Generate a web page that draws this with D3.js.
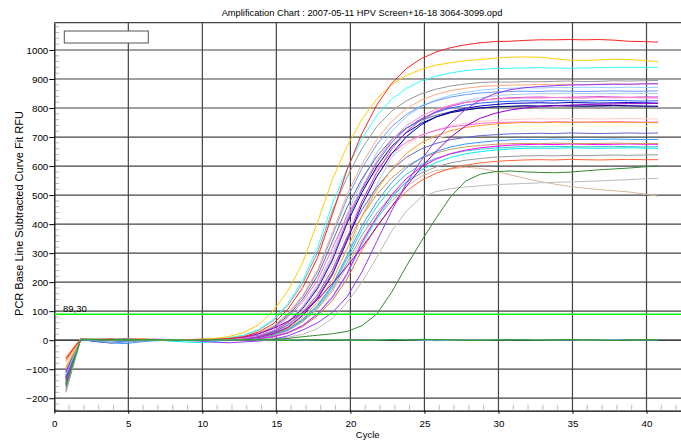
<!DOCTYPE html>
<html>
<head>
<meta charset="utf-8">
<script src="https://cdn.jsdelivr.net/npm/d3@7"></script>
<style>
body { margin: 0; background: #fff; }
text { font-family: "Liberation Sans", Arial, sans-serif; fill: #000; }
</style>
</head>
<body>
<svg width="681" height="441"></svg>
<script>
// RFU per cycle (cycles 1..41), one array per well
var red = [-65,4,2,3,1,0,2,1,0,1,3,6,12,28,56,107,181,284,433,588,712,810,884,936,970,993,1008,1018,1025,1029,1030,1033,1035,1035,1036,1035,1036,1034,1030,1029,1027];
var gold = [-95,3,2,1,3,2,0,1,1,3,6,12,26,52,101,170,267,407,553,669,761,831,880,912,933,948,956,963,967,972,975,976,975,970,965,964,966,968,967,964,960];
var cyan = [-120,5,3,2,-2,1,2,3,1,2,4,8,17,36,70,127,206,319,469,591,694,774,830,868,893,910,921,929,933,936,937,938,939,938,937,938,939,940,940,940,940];
var gray = [-180,2,0,4,3,-1,2,1,1,2,4,7,16,34,67,120,196,303,446,562,660,736,789,825,849,865,876,883,888,890,889,891,890,892,893,891,892,894,893,894,895];
var purpleA = [-130,2,1,3,0,2,1,0,-1,-3,-7,-9,-6,-3,3,15,35,60,95,150,235,340,445,540,620,690,748,795,828,850,863,870,874,877,879,880,881,882,882,883,884];
var salmon = [-75,5,3,1,2,4,1,0,0,1,3,5,11,24,48,92,154,242,370,502,607,691,754,798,827,847,860,868,874,877,879,880,881,880,882,881,882,883,882,884,883];
var lightBlue = [-130,4,-3,-6,-4,1,3,2,0,1,2,3,7,16,33,65,117,191,296,435,548,644,718,770,805,828,844,854,861,866,868,870,869,871,870,872,871,870,872,871,871];
var cornflower = [-110,3,1,2,0,-2,1,2,0,1,3,5,10,23,46,89,150,236,360,489,592,674,735,778,807,825,838,846,852,855,857,858,857,859,858,857,858,859,858,858,859];
var pink = [-100,5,2,4,1,3,0,2,0,1,2,3,7,15,32,63,113,184,284,418,526,618,689,739,772,795,810,820,827,831,833,835,834,836,835,834,836,835,836,835,834];
var magPurple = [-140,2,1,-2,3,1,2,0,0,0,1,3,5,10,23,45,87,147,230,352,478,578,658,718,760,788,806,819,826,832,835,837,838,836,837,838,839,838,837,838,838];
var royalBlue = [-150,3,-5,-8,-3,0,2,1,0,1,2,3,7,15,31,62,111,182,281,413,520,611,681,730,763,785,800,810,817,821,823,825,824,826,825,824,825,826,825,824,825];
var navy = [-125,4,2,1,3,-1,0,2,0,1,2,3,6,15,31,61,109,178,275,404,509,598,667,715,747,769,784,793,800,804,806,808,807,809,808,807,808,809,808,807,806];
var blue = [-135,3,1,2,-1,2,1,0,0,0,1,2,5,10,22,44,85,143,225,344,466,564,642,701,742,769,787,799,807,812,816,817,818,817,819,818,817,818,819,818,817];
var slate = [-160,2,-4,-10,-6,-2,1,0,0,1,2,5,10,22,44,84,141,222,339,459,556,633,691,731,758,775,787,795,800,804,805,806,805,807,806,805,806,807,806,805,806];
var steel = [-115,5,3,4,2,6,3,1,0,0,1,2,3,7,15,32,64,115,187,289,425,536,629,701,752,786,809,825,835,842,846,848,850,849,851,850,849,850,851,850,850];
var lightPink = [-90,6,4,2,5,3,1,2,0,1,2,3,6,14,29,57,103,168,259,381,480,564,629,674,705,725,739,748,754,758,760,762,763,762,764,763,762,763,764,763,762];
var orange = [-70,5,3,1,2,4,2,0,0,0,1,2,5,9,20,41,78,131,206,315,428,518,589,643,680,705,722,733,740,745,748,750,749,751,750,752,751,750,751,750,749];
var hotPink = [-105,4,2,0,3,1,4,2,0,1,2,5,9,20,41,78,132,207,316,429,519,590,644,682,707,723,735,741,747,750,751,752,751,753,752,751,752,753,752,751,752];
var lightYellow = [-85,3,1,2,0,2,1,0,0,0,1,2,4,9,20,40,77,129,203,310,421,509,579,632,669,694,710,721,728,733,736,738,737,739,738,737,738,739,738,737,738];
var slateBlue = [-145,2,-2,1,-3,0,2,1,0,1,1,3,6,13,27,53,96,157,242,356,449,527,587,630,659,678,691,699,705,708,711,712,713,712,714,713,712,713,714,713,714];
var dodger = [-120,3,-4,-9,-12,-6,-2,0,0,0,1,2,4,8,19,37,72,121,190,291,394,477,543,593,628,650,666,676,682,687,690,692,691,693,692,691,692,693,692,691,692];
var olive = [-95,4,3,5,2,1,3,1,0,1,1,3,5,12,26,51,92,149,231,339,427,502,559,600,627,645,658,666,671,675,677,678,677,679,678,677,678,679,678,677,678];
var magenta = [-130,2,0,3,1,-2,1,0,0,0,1,1,3,5,12,26,51,91,149,230,338,425,500,557,597,624,643,655,663,668,672,674,675,674,676,675,674,675,676,675,675];
var turquoise = [-155,3,1,2,4,2,0,1,0,0,1,2,4,8,18,36,69,117,183,280,380,460,524,572,605,627,642,652,658,662,665,667,666,668,667,666,667,668,667,666,667];
var cyan2 = [-100,5,2,0,3,1,2,-3,-6,-8,-5,1,3,5,12,25,50,89,146,225,331,417,490,546,586,612,630,642,650,655,659,661,662,661,663,662,661,662,663,662,661];
var gray2 = [-170,2,4,1,-2,3,1,0,0,0,1,2,4,8,17,34,66,111,175,267,362,438,498,544,576,597,611,620,626,631,633,635,636,635,637,636,637,638,637,638,639];
var orangeRed = [-60,6,3,4,2,5,1,2,0,0,1,1,2,5,11,24,47,84,137,211,311,392,460,513,550,575,592,603,611,616,619,621,622,621,623,622,621,622,623,622,622];
var darkGreen = [-150,3,1,2,0,1,2,1,0,1,0,1,2,2,3,6,12,17,22,30,50,90,165,255,340,420,495,548,572,581,583,580,578,577,579,583,587,590,593,597,600];
var lightGray = [-175,2,0,1,3,0,1,2,0,1,0,2,1,3,5,10,20,40,75,130,200,285,375,445,492,512,522,528,532,536,538,540,542,544,545,547,549,551,553,556,558];
var tan = [-140,4,2,3,1,0,2,1,0,0,1,2,4,8,16,33,63,107,168,256,347,421,479,530,565,585,590,596,592,582,570,558,547,538,530,524,519,515,511,504,496];
var purpleB = [-110,3,2,1,4,2,0,1,2,3,4,6,10,22,40,65,95,140,195,255,320,390,460,530,595,650,700,738,765,782,793,800,805,808,810,812,813,814,815,815,816];
var flatGreen = [-155,2,1,0,2,1,0,1,0,-1,1,0,2,1,0,-1,1,2,0,1,-1,0,2,1,3,2,1,0,-1,1,2,1,0,1,2,1,0,-1,1,2,1];
var flatBlue = [-120,4,-2,-8,-6,-3,0,2,1,-1,0,1,2,0,-1,1,0,1,2,0,-1,1,3,2,0,-2,-1,1,0,2,1,3,2,0,1,-1,0,2,1,0,1];

var xTicks = [0, 5, 10, 15, 20, 25, 30, 35, 40];
var yTicks = [-200, -100, 0, 100, 200, 300, 400, 500, 600, 700, 800, 900, 1000];
var threshold = 89.3;
var thresholdLabel = "89,30";
var title = "Amplification Chart : 2007-05-11 HPV Screen+16-18 3064-3099.opd";

var series = [
    { color: "#99ccff", values: lightBlue },
    { color: "#aaccee", values: steel },
    { color: "#ffffcc", values: lightYellow },
    { color: "#ffcccc", values: lightPink },
    { color: "#d8b898", values: tan },
    { color: "#bbbbbb", values: lightGray },
    { color: "#999999", values: gray2 },
    { color: "#ff6633", values: orangeRed },
    { color: "#00eeee", values: cyan2 },
    { color: "#33cccc", values: turquoise },
    { color: "#ff00ff", values: magenta },
    { color: "#cc9966", values: olive },
    { color: "#3399ff", values: dodger },
    { color: "#6666cc", values: slateBlue },
    { color: "#ff66cc", values: hotPink },
    { color: "#ff9933", values: orange },
    { color: "#666699", values: slate },
    { color: "#0000cc", values: blue },
    { color: "#000080", values: navy },
    { color: "#3366ff", values: royalBlue },
    { color: "#cc33cc", values: magPurple },
    { color: "#ff88cc", values: pink },
    { color: "#6699ff", values: cornflower },
    { color: "#ffaa77", values: salmon },
    { color: "#9900cc", values: purpleB },
    { color: "#9933ff", values: purpleA },
    { color: "#999999", values: gray },
    { color: "#33ffff", values: cyan },
    { color: "#ffcc00", values: gold },
    { color: "#ff2222", values: red },
    { color: "#338833", values: darkGreen },
    { color: "#88aadd", values: flatBlue },
    { color: "#22aa22", values: flatGreen }
];

// first reading sits a bit left of the cycle number
var cycleOffset = 0.22;

const plot = { left: 54.3, right: 681, top: 22.7, bottom: 410.7 };

const svg = d3.select('svg');

const xScale = d3.scaleLinear().domain([0, 42.33]).range([plot.left, plot.right]);
const yScale = d3.scaleLinear().domain([-243, 1094]).range([plot.bottom, plot.top]);

// title
svg.append("text")
    .attr("x", 362)
    .attr("y", 16)
    .attr("text-anchor", "middle")
    .style("font-size", "9.3px")
    .text(title);

// grid
const grid = svg.append("g");
grid.selectAll(".vgrid")
    .data(xTicks.filter(d => d > 0))
    .enter().append("line")
    .attr("x1", d => xScale(d)).attr("x2", d => xScale(d))
    .attr("y1", plot.top).attr("y2", plot.bottom)
    .attr("stroke", "#444").attr("stroke-width", 1.2);
grid.selectAll(".hgrid")
    .data(yTicks)
    .enter().append("line")
    .attr("x1", plot.left).attr("x2", plot.right)
    .attr("y1", d => yScale(d)).attr("y2", d => yScale(d))
    .attr("stroke", d => d == 0 ? "#000" : "#444").attr("stroke-width", 1.2);
grid.append("line")
    .attr("x1", plot.left).attr("x2", plot.right)
    .attr("y1", plot.top).attr("y2", plot.top)
    .attr("stroke", "#444").attr("stroke-width", 1.2);

// minor ticks
grid.selectAll(".xminor")
    .data(d3.range(1, 43).filter(d => d % 5 != 0))
    .enter().append("line")
    .attr("x1", d => xScale(d)).attr("x2", d => xScale(d))
    .attr("y1", plot.bottom - 6).attr("y2", plot.bottom - 1)
    .attr("stroke", "#bbb");
grid.selectAll(".yminor")
    .data(d3.range(-240, 1094, 20).filter(d => d % 100 != 0))
    .enter().append("line")
    .attr("x1", plot.left + 1).attr("x2", plot.left + 5)
    .attr("y1", d => yScale(d)).attr("y2", d => yScale(d))
    .attr("stroke", "#bbb");

// axes
const yAxis = d3.axisLeft(yScale)
    .tickValues(yTicks)
    .tickFormat(d3.format("d"))
    .tickSize(5)
    .tickSizeOuter(0)
    .tickPadding(1);
const yAxisG = svg.append("g")
    .attr("transform", `translate(${plot.left},0)`)
    .call(yAxis);

const xAxis = d3.axisBottom(xScale)
    .tickValues(xTicks)
    .tickFormat(d3.format("d"))
    .tickSize(3)
    .tickSizeOuter(0)
    .tickPadding(6);
const xAxisG = svg.append("g")
    .attr("transform", `translate(0,${plot.bottom})`)
    .call(xAxis);

[xAxisG, yAxisG].forEach(a => {
    a.selectAll("text").style("font-size", "9.8px").attr("fill", "#000");
    a.selectAll("line").attr("stroke", "#000");
    a.select(".domain").attr("stroke", "#000").attr("stroke-width", 1.2);
});

svg.append("text")
    .attr("x", (plot.left + plot.right) / 2)
    .attr("y", 437.5)
    .attr("text-anchor", "middle")
    .style("font-size", "9.5px")
    .text("Cycle");

svg.append("text")
    .attr("transform", "translate(22.5,213.5) rotate(-90)")
    .attr("text-anchor", "middle")
    .style("font-size", "11px")
    .text("PCR Base Line Subtracted Curve Fit RFU");

// curves
svg.append("clipPath").attr("id", "plot")
    .append("rect")
    .attr("x", plot.left).attr("y", plot.top)
    .attr("width", plot.right - plot.left).attr("height", plot.bottom - plot.top);

const line = d3.line()
    .x((d, i) => xScale(i + 1 - cycleOffset))
    .y(d => yScale(d));

svg.append("g")
    .attr("clip-path", "url(#plot)")
    .selectAll(".curve")
    .data(series)
    .enter().append("path")
    .attr("class", "curve")
    .attr("fill", "none")
    .attr("stroke", d => d.color)
    .attr("stroke-width", 1)
    .attr("d", d => line(d.values));

// threshold
var thY = yScale(threshold);
svg.append("line")
    .attr("x1", plot.left).attr("x2", plot.right)
    .attr("y1", thY).attr("y2", thY)
    .attr("stroke", "#00ee00").attr("stroke-width", 1.5);
svg.append("text")
    .attr("x", 63)
    .attr("y", thY - 2)
    .style("font-size", "9.5px")
    .text(thresholdLabel);

// legend box
svg.append("rect")
    .attr("x", 64.3).attr("y", 31)
    .attr("width", 84).attr("height", 12)
    .attr("fill", "#fff")
    .attr("stroke", "#555");
</script>
</body>
</html>
